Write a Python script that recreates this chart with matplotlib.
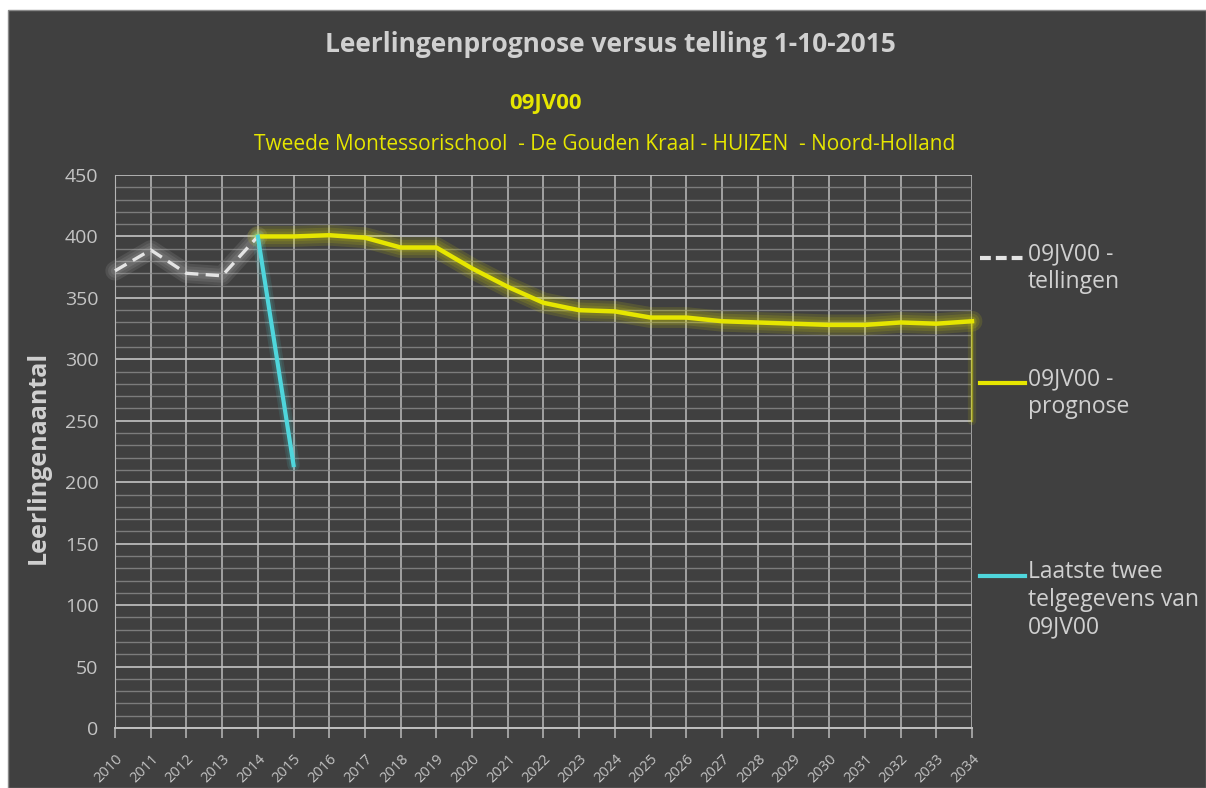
import matplotlib.pyplot as plt
import numpy as np
from matplotlib.lines import Line2D
from matplotlib.patches import Rectangle
import matplotlib.transforms as mtransforms
from matplotlib.ticker import MultipleLocator

plt.rcParams['font.family'] = ['Open Sans', 'DejaVu Sans']

jaren = list(range(2010, 2035))

jaren_telling = [2010, 2011, 2012, 2013, 2014]
tellingen = [372, 389, 370, 368, 400]

jaren_prognose = list(range(2014, 2035))
prognose = [400, 400, 401, 399, 391, 391, 374, 359, 346, 340, 339,
            334, 334, 331, 330, 329, 328, 328, 330, 329, 331]
prognose_staart = [331, 250]   # faint vertical drop at the end of the series

jaren_laatste = [2014, 2015]
laatste = [400, 214]

bg = '#404040'
txt = '#d0d0d0'
geel = '#e6e600'
cyaan = '#4fd6dc'
wit = '#e4e4e4'

fig = plt.figure(figsize=(12.06, 7.88), dpi=100, facecolor='white')
fig.add_artist(Rectangle((8/1206, 0), 1 - 8/1206, 1 - 10/788, transform=fig.transFigure,
                         facecolor=bg, edgecolor='#8a8a8a', linewidth=1.0, zorder=0))

ax = fig.add_axes([115/1206, 1 - 728/788, (972 - 115)/1206, (728 - 175)/788])
ax.set_facecolor(bg)

ax.set_xlim(2010, 2034)
ax.set_ylim(0, 450)
ax.set_xticks(jaren)
ax.set_xticklabels([str(j) for j in jaren], rotation=45, ha='right',
                   rotation_mode='anchor', fontsize=10.5, color='#c4c4c4')
shift = mtransforms.ScaledTranslation(5/100, 0, fig.dpi_scale_trans)
for lbl in ax.get_xticklabels():
    lbl.set_transform(lbl.get_transform() + shift)
ax.yaxis.set_major_locator(MultipleLocator(50))
ax.yaxis.set_minor_locator(MultipleLocator(10))
ax.tick_params(axis='y', which='both', length=0, pad=12, labelsize=14, labelcolor='#c4c4c4')
ax.tick_params(axis='x', length=7, width=1.2, color='#b0b0b0', pad=10)

ax.grid(axis='y', which='major', color='#bdbdbd', linewidth=1.4, alpha=0.9)
ax.grid(axis='y', which='minor', color='#8c8c8c', linewidth=1.0, alpha=0.8)
ax.grid(axis='x', which='major', color='#b5b5b5', linewidth=1.3, alpha=0.9)
ax.set_axisbelow(True)
for s in ['top', 'right']:
    ax.spines[s].set_visible(False)
ax.spines['left'].set_color('#b5b5b5')
ax.spines['bottom'].set_color('#c0c0c0')
ax.spines['bottom'].set_linewidth(1.4)


def gloed(x, y, c, breedtes, a):
    for w in breedtes:
        ax.plot(x, y, color=c, linewidth=w, alpha=a, solid_capstyle='round',
                solid_joinstyle='round', clip_on=False, zorder=2)


gloed(jaren_telling, tellingen, '#c4c4c4', [14, 10, 6], 0.13)
ax.plot(jaren_telling, tellingen, color=wit, linewidth=2.4, dashes=(4, 2.2),
        clip_on=False, zorder=3)

gloed([2034, 2034], prognose_staart, geel, [6, 3], 0.10)
ax.plot([2034, 2034], prognose_staart, color=geel, linewidth=1.2, alpha=0.45,
        clip_on=False, zorder=3)

gloed(jaren_prognose, prognose, geel, [15, 11, 7], 0.13)
ax.plot(jaren_prognose, prognose, color=geel, linewidth=3.2,
        solid_joinstyle='round', clip_on=False, zorder=4)

gloed(jaren_laatste, laatste, cyaan, [9, 6], 0.12)
ax.plot(jaren_laatste, laatste, color=cyaan, linewidth=3.0,
        clip_on=False, zorder=5)

# titles
fig.text(610/1206, 1 - 45/788, 'Leerlingenprognose versus telling 1-10-2015',
         ha='center', va='center', fontsize=19, fontweight='bold', color=txt)
fig.text(546/1206, 1 - 104/788, '09JV00', ha='center', va='center',
         fontsize=16, fontweight='bold', color=geel)
fig.text(605/1206, 1 - 144/788,
         'Tweede Montessorischool  - De Gouden Kraal - HUIZEN  - Noord-Holland',
         ha='center', va='center', fontsize=15, color=geel)
fig.text(38/1206, 1 - 457/788, 'Leerlingenaantal', rotation=90, ha='center', va='center',
         fontsize=18, fontweight='bold', color=txt)

# legend
items = [
    (258, wit, (2.6, 1.2), '09JV00 -\ntellingen'),
    (383, geel, None, '09JV00 -\nprognose'),
    (576, cyaan, None, 'Laatste twee\ntelgegevens van\n09JV00'),
]
for y, c, d, lab in items:
    yy = 1 - y/788
    ln = Line2D([980/1206, 1025/1206], [yy, yy], transform=fig.transFigure,
                color=c, linewidth=3.0)
    if d:
        ln.set_dashes(d)
    fig.add_artist(ln)
    fig.text(1028/1206, yy + 16/788, lab, ha='left', va='top', fontsize=16.5,
             color=txt, linespacing=1.2)

fig.savefig('out.png', dpi=100, facecolor='white')
